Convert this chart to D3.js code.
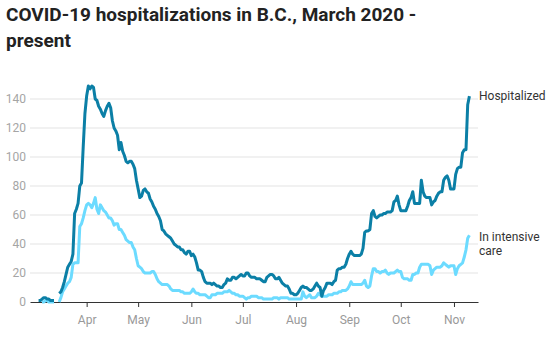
<!DOCTYPE html>
<html>
<head>
<meta charset="utf-8">
<script src="https://cdn.jsdelivr.net/npm/d3@7"></script>
<style>
  body { margin: 0; background: #fff; }
  svg { display: block; font-family: Roboto, "Noto Sans", sans-serif; }
</style>
</head>
<body>
<svg id="chart" width="553" height="344"></svg>
<script>
// daily values, first entry is March 4, 2020 (null = no report)
var startDay = "2020-03-04";
var hospitalized = [
  1,1,2,3,3,2,2,1,1,1,
  null,null,
  6,7,10,14,19,24,26,28,33,61,
  64,68,80,82,107,130,142,149,147,149,
  148,140,139,135,133,130,128,132,135,137,
  134,125,120,118,115,105,110,104,101,97,
  96,97,97,95,92,84,78,72,73,77,
  78,76,75,71,69,66,64,61,59,56,
  50,49,47,46,45,44,42,40,39,38,
  38,36,36,34,33,35,35,32,33,31,
  27,22,22,21,17,14,13,13,13,12,
  13,12,11,11,10,10,12,13,16,15,
  15,17,17,16,17,18,19,18,18,20,
  20,18,17,17,17,16,16,16,15,14,
  14,17,18,19,19,18,16,16,17,15,
  13,12,11,11,9,6,6,5,5,6,
  8,10,11,10,10,9,8,8,9,11,
  13,11,10,4,8,10,13,13,13,12,
  14,15,22,23,23,24,24,26,30,33,
  35,33,32,32,32,32,33,37,48,49,
  49,50,61,63,59,58,59,60,60,61,
  61,62,62,62,63,69,70,73,67,63,
  63,63,63,66,70,72,76,68,68,68,
  68,84,76,73,72,72,72,67,69,70,
  73,75,76,76,84,86,87,84,78,78,
  78,88,92,93,93,103,105,105,136,142
];
var intensiveCare = [
  null,null,0,0,1,1,0,0,0,0,
  null,null,
  0,3,7,9,11,13,14,17,26,27,
  27,27,52,54,58,63,67,68,67,65,
  68,72,64,61,67,65,63,62,60,58,
  58,56,53,54,54,50,50,48,46,43,
  42,41,41,38,36,30,25,24,23,21,
  20,20,20,20,21,21,19,16,14,13,
  12,12,12,12,11,9,8,8,8,8,
  8,7,7,6,6,6,6,7,9,7,
  6,6,5,5,5,5,4,3,3,5,
  5,5,6,6,6,6,7,7,7,8,
  7,6,6,5,5,4,4,4,3,2,
  3,3,4,4,4,4,3,3,3,2,
  2,2,2,2,2,3,3,3,2,3,
  3,3,3,3,2,2,2,2,2,2,
  2,2,7,4,3,4,5,3,3,3,
  4,6,5,4,4,4,4,5,5,5,
  6,6,6,7,7,8,8,8,9,11,
  14,12,12,12,12,12,12,13,15,11,
  10,11,18,23,23,21,21,20,21,21,
  22,20,19,20,20,20,21,22,21,21,
  17,16,16,16,15,15,19,19,20,20,
  24,26,26,26,26,26,25,19,22,23,
  24,24,24,25,27,26,25,24,25,25,
  25,19,23,25,26,27,31,36,44,46
];
var seriesNames = ["Hospitalized", "In intensive care"];
var seriesColors = ["#0b7fa6", "#6cdbff"];
var yTicks = [0, 20, 40, 60, 80, 100, 120, 140];
var monthTicks = ["2020-04-01","2020-05-01","2020-06-01","2020-07-01","2020-08-01","2020-09-01","2020-10-01","2020-11-01"];
var monthLabels = ["Apr","May","Jun","Jul","Aug","Sep","Oct","Nov"];

var svg = d3.select("#chart");
var parseDay = d3.timeParse("%Y-%m-%d");
var first = parseDay(startDay);

var x = d3.scaleTime()
  .domain([parseDay("2020-02-28"), parseDay("2020-11-15")])
  .range([30, 478]);
var y = d3.scaleLinear()
  .domain([0, 150])
  .range([302, 84.5]);

// title
var title = svg.append("text")
  .attr("x", 6)
  .attr("y", 21)
  .attr("font-size", 19)
  .attr("font-weight", "bold")
  .attr("fill", "#222");
title.append("tspan").attr("x", 6).text("COVID-19 hospitalizations in B.C., March 2020 -");
title.append("tspan").attr("x", 6).attr("dy", 26).text("present");

// grid
svg.append("g").selectAll("line")
  .data(yTicks.slice(1))
  .enter()
  .append("line")
  .attr("x1", 30)
  .attr("x2", 478)
  .attr("y1", function(d){ return y(d); })
  .attr("y2", function(d){ return y(d); })
  .attr("stroke", "#e3e3e3")
  .attr("stroke-width", 1);

svg.append("g").selectAll("text")
  .data(yTicks)
  .enter()
  .append("text")
  .attr("x", 26)
  .attr("y", function(d){ return y(d); })
  .attr("dy", "0.35em")
  .attr("text-anchor", "end")
  .attr("font-size", 12)
  .attr("fill", "#a5a5a5")
  .text(function(d){ return d; });

// x axis
var xAxis = d3.axisBottom(x)
  .tickValues(monthTicks.map(parseDay))
  .tickFormat(function(d, i){ return monthLabels[i]; })
  .tickSize(5)
  .tickSizeOuter(0)
  .tickPadding(8);
var gx = svg.append("g")
  .attr("transform", "translate(0,302)")
  .call(xAxis);
gx.select(".domain").attr("stroke", "#333");
gx.selectAll(".tick line").attr("stroke", "#333");
gx.selectAll(".tick text")
  .attr("font-size", 12)
  .attr("font-family", "Roboto, sans-serif")
  .attr("fill", "#999");

// lines
function lineFor(values){
  return d3.line()
    .defined(function(d){ return d != null; })
    .x(function(d, i){ return x(d3.timeDay.offset(first, i)); })
    .y(function(d){ return y(d); })(values);
}

var allSeries = [intensiveCare, hospitalized];
var allColors = [seriesColors[1], seriesColors[0]];
svg.append("g").selectAll("path")
  .data(allSeries)
  .enter()
  .append("path")
  .attr("d", function(d){ return lineFor(d); })
  .attr("fill", "none")
  .attr("stroke", function(d, i){ return allColors[i]; })
  .attr("stroke-width", 3)
  .attr("stroke-linejoin", "round");

// end labels
svg.append("text")
  .attr("x", 479)
  .attr("y", y(hospitalized[hospitalized.length - 1]))
  .attr("dy", "0.35em")
  .attr("font-size", 12)
  .attr("fill", "#333")
  .text(seriesNames[0]);

var icuLabel = svg.append("text")
  .attr("x", 479)
  .attr("y", y(intensiveCare[intensiveCare.length - 1]) + 1.5)
  .attr("dy", "0.35em")
  .attr("font-size", 12)
  .attr("fill", "#333");
icuLabel.append("tspan").attr("x", 479).text("In intensive");
icuLabel.append("tspan").attr("x", 479).attr("dy", 14).text("care");
</script>
</body>
</html>
